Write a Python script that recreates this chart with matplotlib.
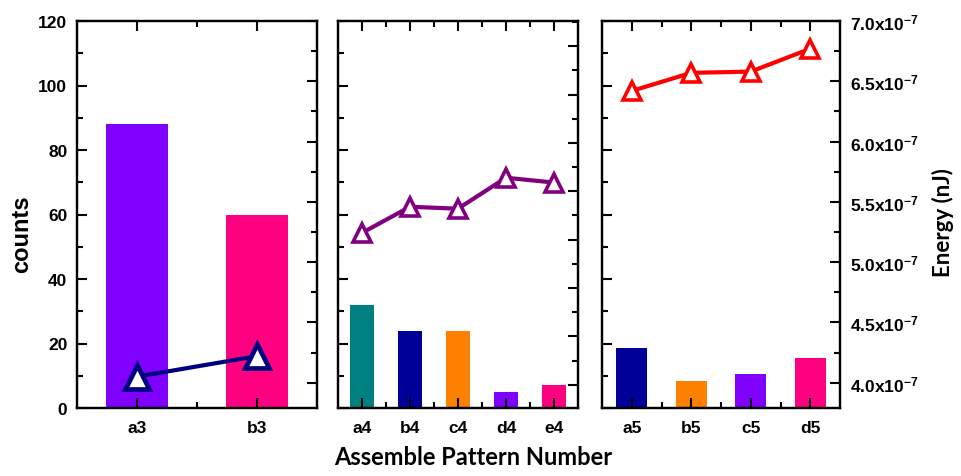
import numpy as np
import matplotlib
matplotlib.use("Agg")
import matplotlib.pyplot as plt
from matplotlib.ticker import MultipleLocator, FuncFormatter

plt.rcParams['font.family'] = ['Liberation Sans', 'DejaVu Sans']
plt.rcParams['font.weight'] = 'bold'
plt.rcParams['mathtext.fontset'] = 'custom'
plt.rcParams['mathtext.rm'] = 'Liberation Sans:bold'
plt.rcParams['mathtext.bf'] = 'Liberation Sans:bold'
plt.rcParams['mathtext.it'] = 'Liberation Sans:bold'

# counts per pattern
labels_3 = ['a3', 'b3']
counts_3 = [88, 60]
energy_3 = [4.05e-7, 4.22e-7]
colors_3 = ['#7F00FF', '#FF0080']

labels_4 = ['a4', 'b4', 'c4', 'd4', 'e4']
counts_4 = [32, 24, 24, 5, 7]
energy_4 = [5.57e-7, 5.84e-7, 5.82e-7, 6.14e-7, 6.09e-7]
colors_4 = ['#008080', '#000099', '#FF8000', '#8000FF', '#FF0080']

labels_5 = ['a5', 'b5', 'c5', 'd5']
counts_5 = [18.5, 8.5, 10.5, 15.5]
energy_5 = [6.42e-7, 6.57e-7, 6.58e-7, 6.77e-7]
colors_5 = ['#000099', '#FF8000', '#8000FF', '#FF0080']

line_colors = ['#000080', '#800080', '#FF0000']

fig = plt.figure(figsize=(9.61, 4.77), dpi=100)

bottom = 1 - 409 / 477
height = (409 - 22) / 477
panels = [
    (77 / 961, 240 / 961, labels_3, counts_3, energy_3, colors_3, (3.79e-7, 7.0e-7), 17, 3.4),
    (338 / 961, 240 / 961, labels_4, counts_4, energy_4, colors_4, (3.76e-7, 7.76e-7), 13, 2.6),
    (602 / 961, 238 / 961, labels_5, counts_5, energy_5, colors_5, (3.79e-7, 7.0e-7), 13, 2.6),
]


def sci_label(v, pos):
    return r"$%.1f\mathrm{x}10^{-7}$" % (v * 1e7)


for i, (x0, w, labs, cnt, en, cols, elim, msize, mew) in enumerate(panels):
    ax = fig.add_axes([x0, bottom, w, height])
    xs = np.arange(1, len(labs) + 1)
    ax.bar(xs, cnt, width=0.52, color=cols, zorder=1)
    ax.set_xlim(0.5, len(labs) + 0.5)
    ax.set_ylim(0, 120)
    ax.set_xticks(xs)
    ax.set_xticklabels(labs)
    ax.xaxis.set_minor_locator(plt.FixedLocator(xs[:-1] + 0.5))
    ax.yaxis.set_major_locator(MultipleLocator(20))
    ax.yaxis.set_minor_locator(MultipleLocator(10))
    ax.tick_params(axis='x', which='both', direction='in', top=True, labelsize=12.5, pad=9)
    ax.tick_params(axis='y', which='both', direction='in', right=False, labelsize=12.5, pad=7)
    ax.tick_params(which='major', length=7, width=1.5)
    ax.tick_params(which='minor', length=4, width=1.5)
    if i > 0:
        ax.tick_params(axis='y', labelleft=False)
    for s in ax.spines.values():
        s.set_linewidth(1.6)

    tw = ax.twinx()
    tw.plot(xs, en, color=line_colors[i], lw=3, marker='^', markersize=msize,
            markerfacecolor='white', markeredgecolor=line_colors[i], markeredgewidth=mew,
            zorder=3)
    tw.set_ylim(*elim)
    tw.yaxis.set_major_locator(MultipleLocator(0.5e-7))
    tw.yaxis.set_minor_locator(MultipleLocator(0.25e-7))
    tw.tick_params(axis='y', which='both', direction='in', labelsize=12.5, pad=7)
    tw.tick_params(which='major', length=7, width=1.5)
    tw.tick_params(which='minor', length=4, width=1.5)
    if i < 2:
        tw.tick_params(axis='y', labelright=False)
    else:
        tw.yaxis.set_major_formatter(FuncFormatter(sci_label))
    for s in tw.spines.values():
        s.set_linewidth(1.6)

fig.text(22 / 961, 0.5 + 0.01, 'counts', rotation=90, ha='center', va='center',
         fontsize=17, fontweight='bold')
fig.text(943 / 961, 1 - 223 / 477, 'Energy (nJ)', rotation=90, ha='center', va='center',
         fontsize=16, fontweight='bold', family=['Lato', 'DejaVu Sans'])
fig.text(473 / 961, 1 - 458 / 477, 'Assemble Pattern Number', ha='center', va='center',
         fontsize=17, fontweight='bold', family=['Lato', 'DejaVu Sans'])

fig.savefig('out.png', dpi=100)
